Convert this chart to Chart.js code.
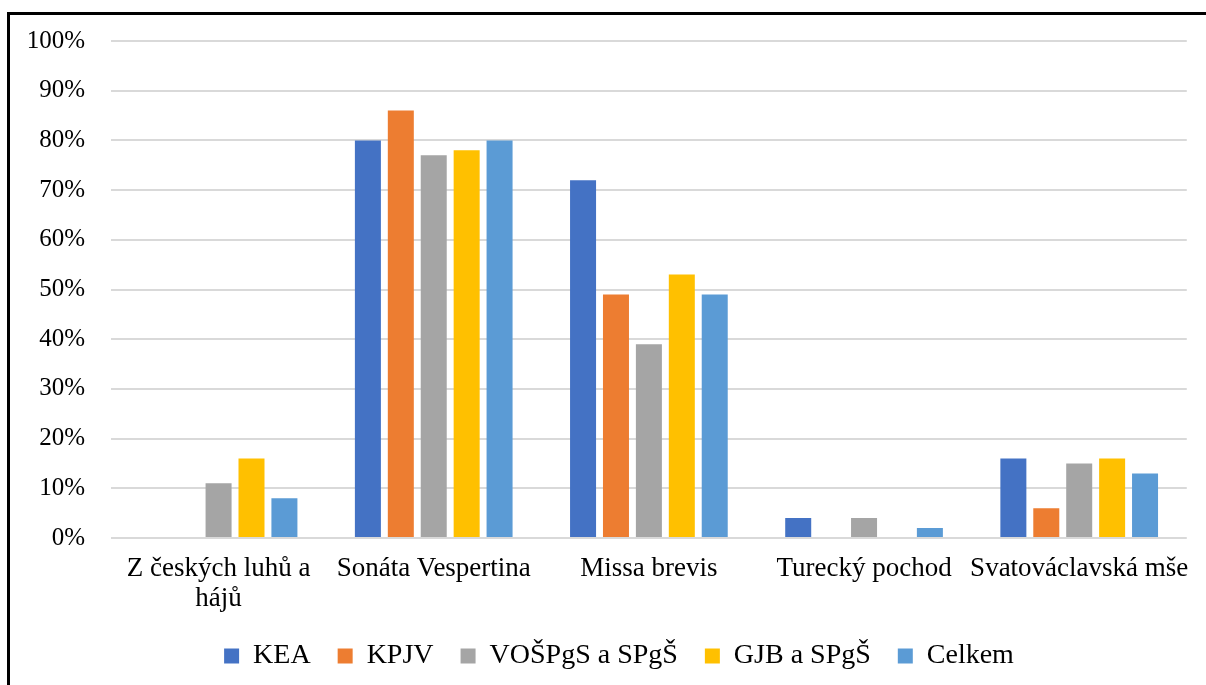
<!DOCTYPE html>
<html>
<head>
<meta charset="utf-8">
<script src="https://cdn.jsdelivr.net/npm/chart.js@4"></script>
<style>
  html, body { margin: 0; padding: 0; background: #fff; overflow: hidden; }
  #frame { position: absolute; left: 7px; top: 12px; width: 1300px; height: 800px;
           border-left: 3px solid #000; border-top: 3px solid #000; }
  #wrap { position: absolute; left: 0; top: 0; width: 1206px; height: 685px; }
</style>
</head>
<body>
<div id="frame"></div>
<div id="wrap"><canvas id="c" width="1206" height="685"></canvas></div>
<script>
const categories = [["Z českých luhů a", "hájů"], "Sonáta Vespertina", "Missa brevis", "Turecký pochod", "Svatováclavská mše"];
const seriesNames = ["KEA", "KPJV", "VOŠPgS a SPgŠ", "GJB a SPgŠ", "Celkem"];
const KEA    = [0, 80, 72, 4, 16];
const KPJV   = [0, 86, 49, 0, 6];
const VOSPGS = [11, 77, 39, 4, 15];
const GJB    = [16, 78, 53, 0, 16];
const CELKEM = [8, 80, 49, 2, 13];
const colors = ["#4472C4", "#ED7D31", "#A5A5A5", "#FFC000", "#5B9BD5"];
const yTicks = [0, 10, 20, 30, 40, 50, 60, 70, 80, 90, 100];

const values = [KEA, KPJV, VOSPGS, GJB, CELKEM];
const FONT = "'Liberation Serif', 'Times New Roman', serif";

const shiftLegend = {
  id: 'shiftLegend',
  afterLayout(chart) {
    if (chart.legend) { chart.legend.left += 11; chart.legend.right += 11; }
  }
};

new Chart(document.getElementById('c'), {
  type: 'bar',
  data: {
    labels: categories,
    datasets: seriesNames.map((n, i) => ({
      label: n,
      data: values[i],
      backgroundColor: colors[i],
      borderWidth: 0,
      categoryPercentage: 0.765,
      barPercentage: 0.79
    }))
  },
  plugins: [shiftLegend],
  options: {
    responsive: false,
    animation: false,
    devicePixelRatio: 1,
    layout: { padding: { left: 27, right: 17, top: 31, bottom: 5 } },
    plugins: {
      legend: {
        position: 'bottom',
        labels: {
          font: { family: FONT, size: 28 },
          color: '#000',
          boxWidth: 15,
          boxHeight: 15,
          padding: 27
        }
      },
      tooltip: { enabled: false }
    },
    scales: {
      x: {
        grid: { display: false, drawTicks: false },
        border: { display: false },
        afterFit: (axis) => { axis.height = 77; },
        ticks: {
          font: { family: FONT, size: 27, lineHeight: 1.11 },
          color: '#000',
          maxRotation: 0,
          autoSkip: false,
          padding: 16
        }
      },
      y: {
        min: 0,
        max: 100,
        afterBuildTicks: (axis) => { axis.ticks = yTicks.map(v => ({ value: v })); },
        afterFit: (axis) => { axis.width = 84; },
        grid: { color: '#D9D9D9', lineWidth: 2, drawTicks: false },
        border: { display: false },
        ticks: {
          font: { family: FONT, size: 25 },
          color: '#000',
          padding: 26,
          callback: (v) => v + '%'
        }
      }
    }
  }
});
</script>
</body>
</html>
